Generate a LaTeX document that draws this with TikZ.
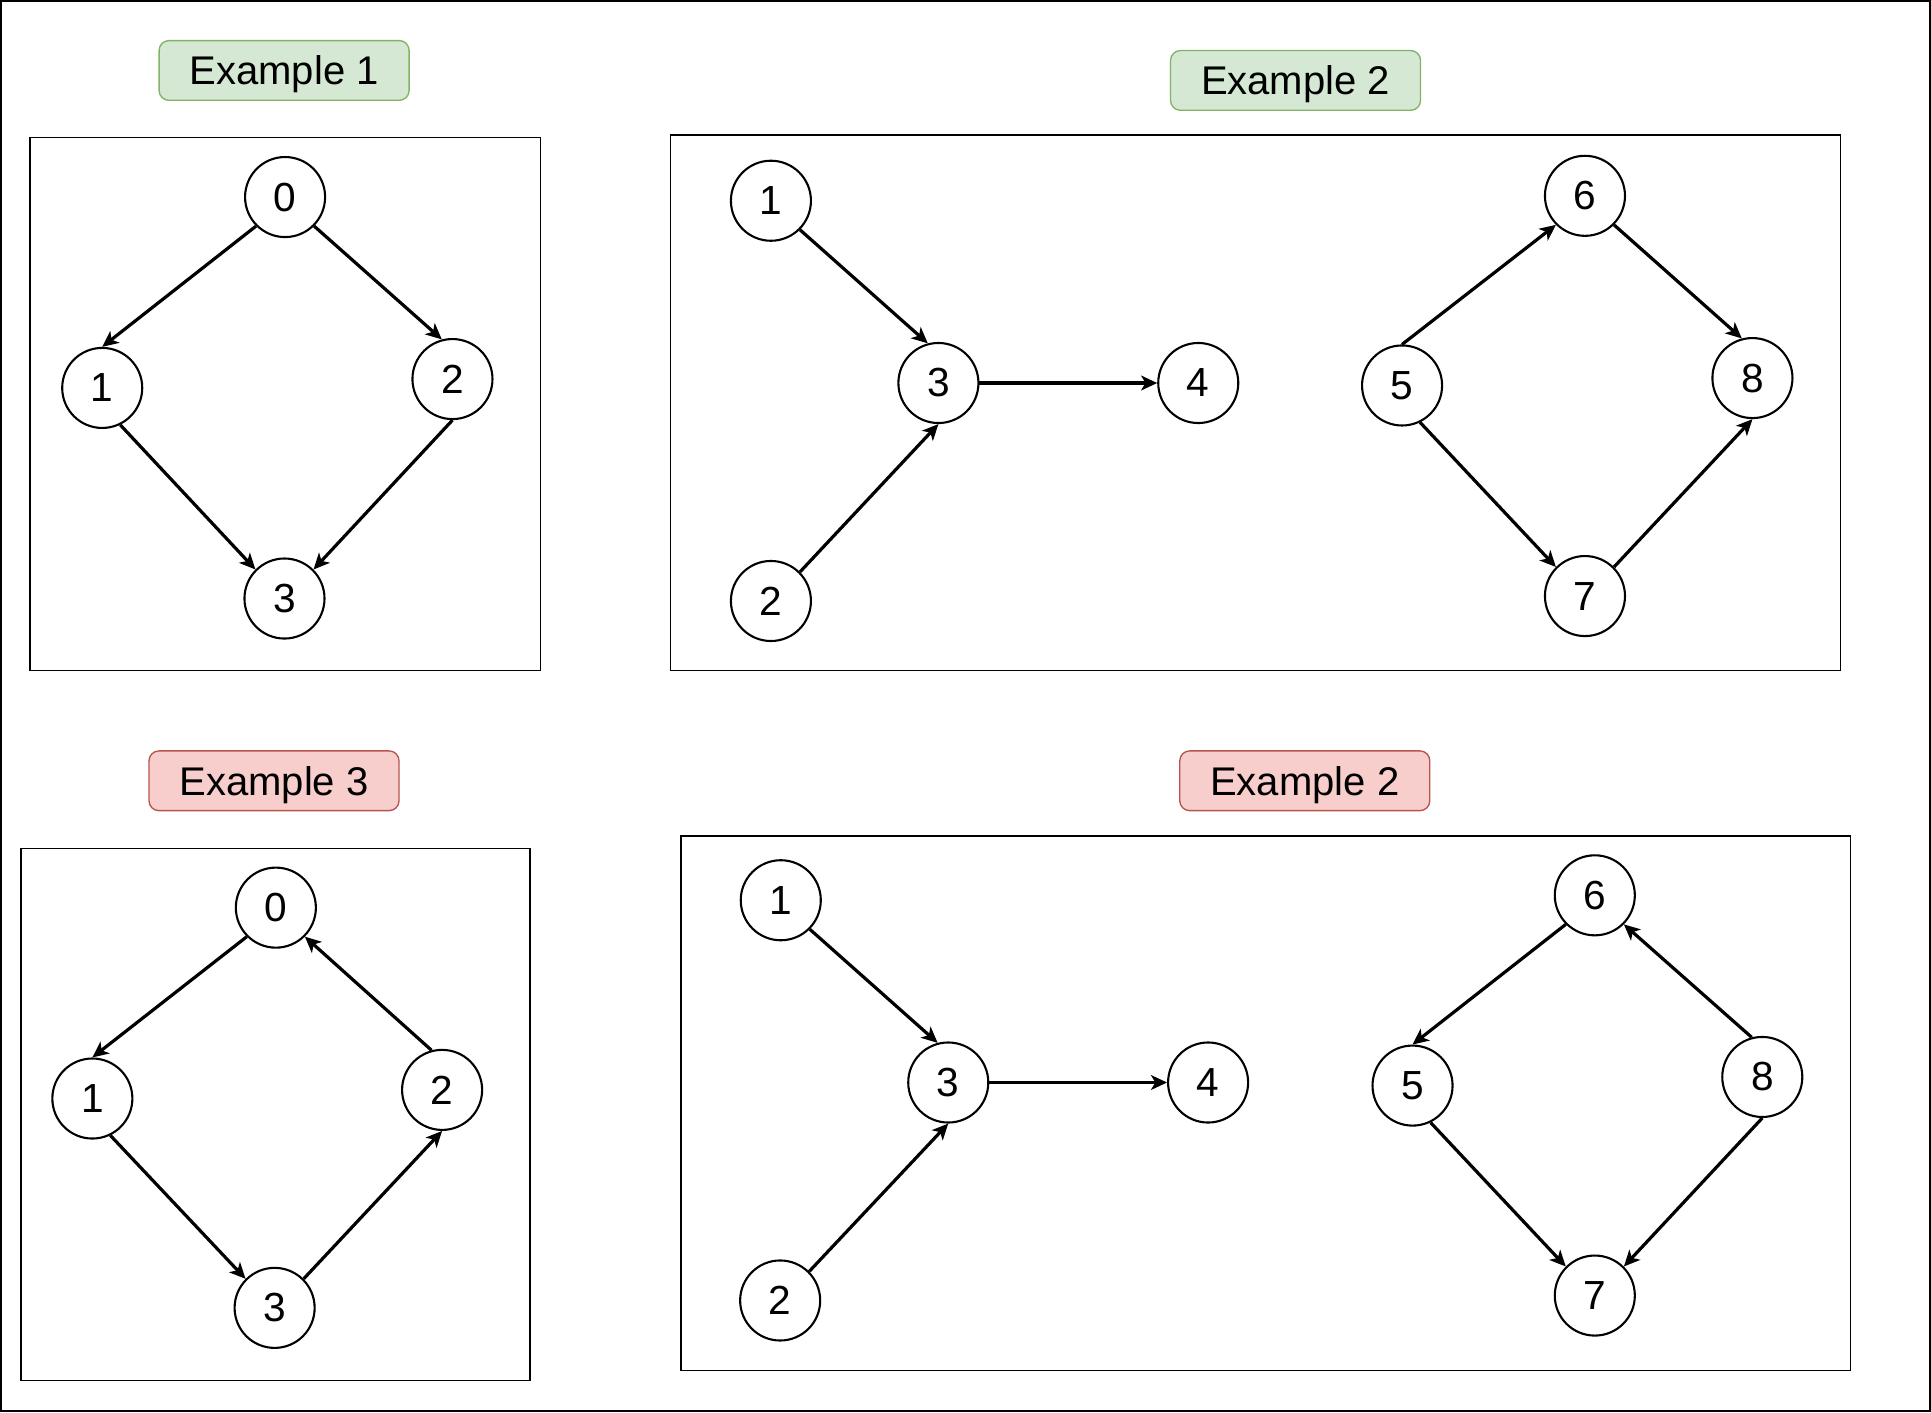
\documentclass[tikz,border=0pt]{standalone}
\usepackage{fontspec}
\setmainfont{Liberation Sans}
\usetikzlibrary{arrows.meta}
\definecolor{gfill}{HTML}{D5E8D4}
\definecolor{gline}{HTML}{82B366}
\definecolor{rfill}{HTML}{F8CECC}
\definecolor{rline}{HTML}{B85450}
\tikzset{
  vert/.style={circle,draw,line width=1.7pt,minimum size=65pt,inner sep=0pt,font=\fontsize{33}{39}\selectfont},
  edge/.style={line width=2.6pt,-{Stealth[length=13pt,width=12pt,inset=3.5pt]}},
  frame/.style={draw,line width=1.3pt},
  glabel/.style={rectangle,rounded corners=8pt,draw=gline,fill=gfill,line width=1.1pt,minimum width=203pt,minimum height=48.5pt,inner sep=0pt,text height=23.3pt,text depth=0pt,font=\fontsize{32.5}{38}\selectfont},
  rlabel/.style={glabel,draw=rline,fill=rfill}
}
\begin{document}
\begin{tikzpicture}[x=1pt,y=-1pt]
\useasboundingbox (0,0) rectangle (1568,1146.6);
\draw[line width=1.3pt] (0.7,0.7) rectangle (1567.3,1145.9);

% ---------- Example 1 ----------
\node[glabel] (l1) at (230.7,57.2) {Example 1};
\draw[frame] (24.5,111.7) rectangle (438.8,544.5);
\node[vert] (a0) at (231.5,160) {0};
\node[vert] (a1) at (83,315) {1};
\node[vert] (a2) at (367.4,307.8) {2};
\node[vert] (a3) at (231,486) {3};
\draw[edge] (a0.225) -- (a1.90);
\draw[edge] (a0.315) -- (a2.105);
\draw[edge] (a1.296) -- (a3.135);
\draw[edge] (a2.270) -- (a3.45);

% ---------- Example 2 (top) ----------
\node[glabel] (l2) at (1052,65.3) {Example 2};
\draw[frame] (544.5,109.8) rectangle (1494.4,544.5);
\node[vert] (b1) at (626,163) {1};
\node[vert] (b2) at (626,488) {2};
\node[vert] (b3) at (762,311) {3};
\node[vert] (b4) at (973,311) {4};
\node[vert] (b5) at (1138.5,313) {5};
\node[vert] (b6) at (1287,159) {6};
\node[vert] (b7) at (1287,484) {7};
\node[vert] (b8) at (1423,307) {8};
\draw[edge] (b1.315) -- (b3.105);
\draw[edge] (b2.45) -- (b3.270);
\draw[edge] (b3.0) -- (b4.180);
\draw[edge] (b5.90) -- (b6.225);
\draw[edge] (b6.315) -- (b8.105);
\draw[edge] (b5.296) -- (b7.135);
\draw[edge] (b7.45) -- (b8.270);

% ---------- Example 3 ----------
\node[rlabel] (l3) at (222.5,634) {Example 3};
\draw[frame] (17,689) rectangle (430.5,1121);
\node[vert] (c0) at (224,737) {0};
\node[vert] (c1) at (75,892) {1};
\node[vert] (c2) at (359,885) {2};
\node[vert] (c3) at (223,1062) {3};
\draw[edge] (c0.225) -- (c1.90);
\draw[edge] (c2.105) -- (c0.315);
\draw[edge] (c1.296) -- (c3.135);
\draw[edge] (c3.45) -- (c2.270);

% ---------- Example 2 (bottom) ----------
\node[rlabel] (l4) at (1059.5,634) {Example 2};
\draw[frame] (553,679) rectangle (1502.5,1112.7);
\node[vert] (d1) at (634,731) {1};
\node[vert] (d2) at (633.5,1056) {2};
\node[vert] (d3) at (770,879) {3};
\node[vert] (d4) at (981,879) {4};
\node[vert] (d5) at (1147,881.5) {5};
\node[vert] (d6) at (1295,727) {6};
\node[vert] (d7) at (1295,1052) {7};
\node[vert] (d8) at (1431,874.5) {8};
\draw[edge] (d1.315) -- (d3.105);
\draw[edge] (d2.45) -- (d3.270);
\draw[edge] (d3.0) -- (d4.180);
\draw[edge] (d6.225) -- (d5.90);
\draw[edge] (d8.105) -- (d6.315);
\draw[edge] (d5.296) -- (d7.135);
\draw[edge] (d8.270) -- (d7.45);
\end{tikzpicture}
\end{document}
